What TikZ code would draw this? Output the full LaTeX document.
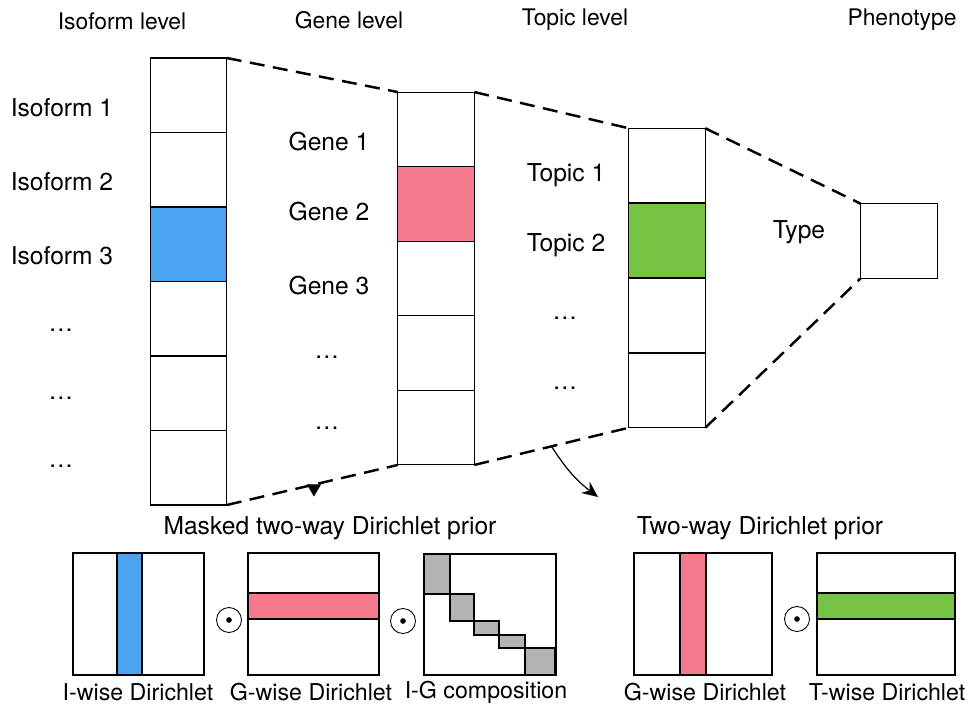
\documentclass[tikz,border=0pt]{standalone}
\usepackage{fontspec}
\setmainfont{TeX Gyre Heros}
\usetikzlibrary{positioning,arrows.meta,calc}
\definecolor{isoblue}{HTML}{4AA3EF}
\definecolor{genepink}{HTML}{F57A8D}
\definecolor{topicgreen}{HTML}{77C344}
\definecolor{blockgray}{HTML}{B3B3B3}
\begin{document}
\begin{tikzpicture}[x=0.02cm,y=-0.02cm,
    every node/.style={font=\fontsize{13.5}{16}\selectfont},
    title/.style={font=\fontsize{13}{16}\selectfont},
    sidelab/.style={font=\fontsize{14}{16}\selectfont},
    botlab/.style={font=\fontsize{13.2}{16}\selectfont},
    cell/.style={draw, line width=0.6pt, minimum width=1.53cm, minimum height=1.49cm, inner sep=0pt, outer sep=0pt},
    matbox/.style={draw, line width=0.6pt, inner sep=0pt, outer sep=0pt},
    link/.style={line width=1.4pt, dash pattern=on 0.3cm off 0.17cm},
    prodsign/.style={draw, circle, line width=0.5pt, minimum size=0.5cm, inner sep=0pt}]
  \useasboundingbox (0,0) rectangle (974,706);

  % column titles
  \node[title] (tiso) at (122,21) {Isoform level};
  \node[title] (tgene) at (349,20) {Gene level};
  \node[title] (ttopic) at (575,20) {Topic level};
  \node[title] (tpheno) at (902,20) {Phenotype};

  % isoform column
  \foreach \i/\c in {1/white,2/white,3/isoblue,4/white,5/white,6/white}
    \node[cell, fill=\c] (iso\i) at (188.5,{58+74.5*(\i-0.5)}) {};
  \foreach \i/\t in {1/Isoform 1,2/Isoform 2,3/Isoform 3}
    \node[sidelab] (isolab\i) at (62,{108+74*(\i-1)}) {\t};
  \foreach \i/\y in {4/330,5/398,6/466}
    \node[sidelab] (isolab\i) at (61,\y) {\dots};

  % gene column
  \foreach \i/\c in {1/white,2/genepink,3/white,4/white,5/white}
    \node[cell, fill=\c] (gene\i) at (436,{92+74.6*(\i-0.5)}) {};
  \foreach \i/\y in {1/142,2/212,3/286}
    \node[sidelab] (genelab\i) at (329,\y) {Gene \i};
  \foreach \i/\y in {4/357,5/428}
    \node[sidelab] (genelab\i) at (327,\y) {\dots};

  % topic column
  \foreach \i/\c in {1/white,2/topicgreen,3/white,4/white}
    \node[cell, fill=\c] (topic\i) at (667,{128+75*(\i-0.5)}) {};
  \foreach \i/\y in {1/175,2/245}
    \node[sidelab] (topiclab\i) at (566,\y) {Topic \i};
  \foreach \i/\y in {3/318,4/388}
    \node[sidelab] (topiclab\i) at (565,\y) {\dots};

  % phenotype
  \node[cell] (pheno) at (899,241) {};
  \node[sidelab] (typelab) at (799,232) {Type};

  % dashed links between levels
  \draw[link] (iso1.north east) -- (gene1.north west);
  \draw[link] (gene1.north east) -- (topic1.north west);
  \draw[link] (topic1.north east) -- (pheno.north west);
  \draw[link] (iso6.south east) -- (gene5.south west);
  \draw[link] (gene5.south east) -- (topic4.south west);
  \draw[link] (topic4.south east) -- (pheno.south west);

  % small marks on the lower links
  \coordinate (mk1) at ($(iso6.south east)!0.51!(gene5.south west)$);
  \draw[-{Triangle[length=7pt,width=8pt]}, line width=0.8pt] (mk1) -- ++(0,12);
  \coordinate (mk2) at ($(gene5.south east)!0.5!(topic4.south west)$);
  \coordinate (mk2end) at (598,497);
  \draw[-{Stealth[length=9pt,width=8pt]}, line width=0.7pt] (mk2) to[bend right=10] (mk2end);

  % bottom titles
  \node[sidelab] (tmask) at (330,528) {Masked two-way Dirichlet prior};
  \node[sidelab] (ttwo) at (760,528) {Two-way Dirichlet prior};

  % I-wise
  \fill[isoblue] (117,553) rectangle (142,675);
  \draw[line width=0.6pt] (117,553) rectangle (142,675);
  \node[matbox, minimum width=2.62cm, minimum height=2.44cm] (mat1) at (138.5,614) {};
  \node[botlab] (matlab1) at (138,692) {I-wise Dirichlet};
  \node[prodsign] (prod1) at (229,620) {};
  \fill (prod1) circle (1.6pt);

  % G-wise (rows)
  \fill[genepink] (248,593) rectangle (379,619);
  \draw[line width=0.6pt] (248,593) rectangle (379,619);
  \node[matbox, minimum width=2.62cm, minimum height=2.44cm] (mat2) at (313.5,614) {};
  \node[botlab] (matlab2) at (311,692) {G-wise Dirichlet};
  \node[prodsign] (prod2) at (403,621) {};
  \fill (prod2) circle (1.6pt);

  % I-G composition
  \foreach \xa/\ya/\xb/\yb in {424/554/450/594, 450/594/474/621, 474/621/499/635, 499/635/525/648, 525/648/555/675}
    \draw[line width=0.6pt, fill=blockgray] (\xa,\ya) rectangle (\xb,\yb);
  \node[matbox, minimum width=2.64cm, minimum height=2.42cm] (mat3) at (490,614.5) {};
  \node[botlab] (matlab3) at (486,692) {I-G composition};

  % two-way prior
  \fill[genepink] (680,553) rectangle (706,675);
  \draw[line width=0.6pt] (680,553) rectangle (706,675);
  \node[matbox, minimum width=2.76cm, minimum height=2.44cm] (mat4) at (703,614) {};
  \node[botlab] (matlab4) at (705,692) {G-wise Dirichlet};
  \node[prodsign] (prod3) at (797,619) {};
  \fill (prod3) circle (1.6pt);

  \fill[topicgreen] (817,593) rectangle (955,619);
  \draw[line width=0.6pt] (817,593) rectangle (955,619);
  \node[matbox, minimum width=2.76cm, minimum height=2.44cm] (mat5) at (886,614) {};
  \node[botlab] (matlab5) at (887,692) {T-wise Dirichlet};
\end{tikzpicture}
\end{document}
